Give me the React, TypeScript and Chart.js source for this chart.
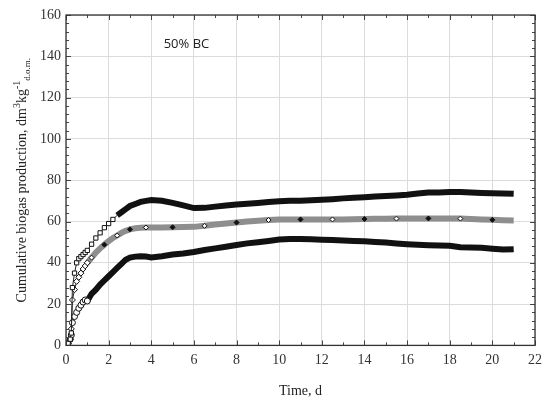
import { useEffect, useRef } from "react";
import { Chart, registerables } from "chart.js";

Chart.register(...registerables);

// time of measurement, days
const days = [
  0, 0.1, 0.2, 0.25, 0.3, 0.4, 0.5, 0.6, 0.7, 0.8, 0.9, 1.0,
  1.2, 1.4, 1.6, 1.8, 2.0, 2.2, 2.4, 2.6, 2.8, 3.0,
  3.25, 3.5, 3.75,
  4, 4.5, 5, 5.5, 6, 6.5, 7, 7.5, 8, 8.5, 9, 9.5, 10, 10.5, 11, 11.5, 12,
  12.5, 13, 13.5, 14, 14.5, 15, 15.5, 16, 16.5, 17, 17.5, 18, 18.5, 19,
  19.5, 20, 20.5, 21,
];

// squares (upper curve)
const upperValues = [
  0, 1, 3, 6, 28, 35, 40, 42, 43, 44, 45, 46,
  49, 52, 54.5, 57, 59, 61, 63, 64.5, 66, 67.5,
  68.5, 69.5, 70,
  70.4, 70, 69, 67.8, 66.5, 66.6, 67.2, 67.7, 68.2, 68.6, 69, 69.4, 69.8,
  70, 70.1, 70.3, 70.5, 70.8, 71.2, 71.5, 71.8, 72.1, 72.3, 72.6, 73, 73.6,
  74, 74.1, 74.3, 74.3, 74, 73.8, 73.7, 73.6, 73.4,
];

// diamonds (middle curve)
const middleValues = [
  0, 1, 3, 8, 22, 27, 31, 33, 35, 37, 38.5, 40,
  42.5, 45, 47, 48.8, 50.5, 52, 53.2, 54.5, 55.5, 56.2,
  56.7, 57, 57.1,
  57.1, 57.1, 57.2, 57.3, 57.4, 57.9, 58.5, 59, 59.5, 60, 60.4, 60.7, 61,
  61, 61, 61, 61, 61, 61, 61.1, 61.2, 61.3, 61.3, 61.4, 61.5, 61.5,
  61.5, 61.5, 61.5, 61.4, 61.2, 61, 60.8, 60.6, 60.5,
];

// circles (lower curve)
const lowerValues = [
  0, 1, 3, 5, 11, 14, 16, 18, 19.5, 21, 22, 21.5,
  25, 27, 29.5, 31.5, 33.5, 35.5, 37.5, 39.5, 41.5, 42.5,
  43, 43.2, 43,
  42.6, 43.2, 44, 44.5, 45.2, 46.2, 47, 47.8, 48.6, 49.4, 50, 50.6, 51.3,
  51.5, 51.5, 51.4, 51.2, 51, 50.8, 50.6, 50.4, 50.1, 49.8, 49.4, 49, 48.7,
  48.5, 48.4, 48.2, 47.5, 47.4, 47.3, 46.8, 46.4, 46.6,
];

const xTicks = { min: 0, max: 22, step: 2 };
const yTicks = { min: 0, max: 160, step: 20 };

const seriesDefs = [
  { label: "upper", values: upperValues, marker: "rect", band: "#111111", bandFrom: 2.4, lateMarker: false },
  { label: "middle", values: middleValues, marker: "rectRot", band: "#8e8e8e", bandFrom: 1.1, lateMarker: true },
  { label: "lower", values: lowerValues, marker: "circle", band: "#111111", bandFrom: 1.1, lateMarker: false },
];

const serif = "'Liberation Serif', 'Times New Roman', serif";

const framePlugin = {
  id: "frame",
  afterDraw(chart: any) {
    const { ctx, chartArea } = chart;
    const xs = chart.scales.x;
    const ys = chart.scales.y;
    ctx.save();
    ctx.strokeStyle = "#444";
    ctx.lineWidth = 1;
    ctx.beginPath();
    for (let v = xTicks.min; v <= xTicks.max; v += 1) {
      const len = v % 2 === 0 ? 5 : 3;
      const px = Math.round(xs.getPixelForValue(v)) + 0.5;
      ctx.moveTo(px, chartArea.bottom);
      ctx.lineTo(px, chartArea.bottom - len);
      ctx.moveTo(px, chartArea.top);
      ctx.lineTo(px, chartArea.top + len);
    }
    for (let v = yTicks.min; v <= yTicks.max; v += 4) {
      const len = v % 20 === 0 ? 5 : 3;
      const py = Math.round(ys.getPixelForValue(v)) + 0.5;
      ctx.moveTo(chartArea.left, py);
      ctx.lineTo(chartArea.left + len, py);
      ctx.moveTo(chartArea.right, py);
      ctx.lineTo(chartArea.right - len, py);
    }
    ctx.stroke();
    ctx.strokeStyle = "#333";
    ctx.lineWidth = 1.3;
    ctx.strokeRect(chartArea.left, chartArea.top, chartArea.right - chartArea.left, chartArea.bottom - chartArea.top);

    // panel label
    ctx.fillStyle = "#222";
    ctx.font = "13px 'Open Sans', sans-serif";
    ctx.textAlign = "center";
    ctx.textBaseline = "middle";
    ctx.fillText("50% BC", xs.getPixelForValue(5.65), ys.getPixelForValue(145.6));

    // y axis title with super/subscripts
    const parts = [
      { t: "Cumulative biogas production, dm", size: 14, dy: 0 },
      { t: "3", size: 10, dy: -6 },
      { t: "kg", size: 14, dy: 0 },
      { t: "-1", size: 10, dy: -6 },
      { t: "d.o.m.", size: 9, dy: 4 },
    ];
    let total = 0;
    for (const p of parts) {
      ctx.font = `${p.size}px ${serif}`;
      total += ctx.measureText(p.t).width;
    }
    ctx.translate(26, (chartArea.top + chartArea.bottom) / 2);
    ctx.rotate(-Math.PI / 2);
    ctx.textAlign = "left";
    ctx.textBaseline = "alphabetic";
    ctx.fillStyle = "#222";
    let x = -total / 2;
    for (const p of parts) {
      ctx.font = `${p.size}px ${serif}`;
      ctx.fillText(p.t, x, p.dy);
      x += ctx.measureText(p.t).width;
    }
    ctx.restore();
  },
};

export default function App() {
  const canvasRef = useRef<HTMLCanvasElement | null>(null);
  const chartRef = useRef<Chart | null>(null);

  useEffect(() => {
    if (!canvasRef.current) return;
    if (chartRef.current) chartRef.current.destroy();

    const datasets = seriesDefs.map((s) => {
      const early = (i: number) => days[i] < s.bandFrom;
      return {
        label: s.label,
        data: days.map((d, i) => ({ x: d, y: s.values[i] })),
        showLine: true,
        tension: 0,
        borderColor: s.band,
        borderWidth: 6,
        segment: {
          borderWidth: (c: any) => (days[c.p1DataIndex] <= s.bandFrom ? 1 : 6),
          borderColor: (c: any) => (days[c.p1DataIndex] <= s.bandFrom ? "#222" : s.band),
        },
        pointStyle: s.marker,
        pointRadius: (c: any) =>
          early(c.dataIndex) ? 3 : s.lateMarker && c.dataIndex % 3 === 0 ? 2.5 : 0,
        pointBackgroundColor: (c: any) =>
          early(c.dataIndex) || c.dataIndex % 6 === 0 ? "#ffffff" : "#111",
        pointBorderColor: "#111",
        pointBorderWidth: 1,
      };
    });

    chartRef.current = new Chart(canvasRef.current, {
      type: "scatter",
      data: { datasets },
      options: {
        animation: false,
        responsive: true,
        maintainAspectRatio: false,
        layout: { padding: { left: 0, right: 15, top: 15, bottom: 4 } },
        plugins: { legend: { display: false }, tooltip: { enabled: false } },
        scales: {
          x: {
            type: "linear",
            min: xTicks.min,
            max: xTicks.max,
            ticks: { stepSize: xTicks.step, color: "#333", font: { family: serif, size: 14 }, padding: 7 },
            grid: { color: "#dcdcdc", drawTicks: false },
            border: { display: false },
            title: { display: true, text: "Time, d", color: "#222", font: { family: serif, size: 14 }, padding: { top: 7, bottom: 0 } },
          },
          y: {
            type: "linear",
            min: yTicks.min,
            max: yTicks.max,
            ticks: { stepSize: yTicks.step, color: "#333", font: { family: serif, size: 14 }, padding: 5 },
            grid: { color: "#dcdcdc", drawTicks: false },
            border: { display: false },
            afterFit: (scale: any) => {
              scale.width = 66;
            },
          },
        },
      },
      plugins: [framePlugin],
    } as any);

    return () => {
      if (chartRef.current) {
        chartRef.current.destroy();
        chartRef.current = null;
      }
    };
  }, []);

  return (
    <div style={{ position: "fixed", left: 0, top: 0, width: 550, height: 404, background: "#fff" }}>
      <canvas ref={canvasRef}></canvas>
    </div>
  );
}
